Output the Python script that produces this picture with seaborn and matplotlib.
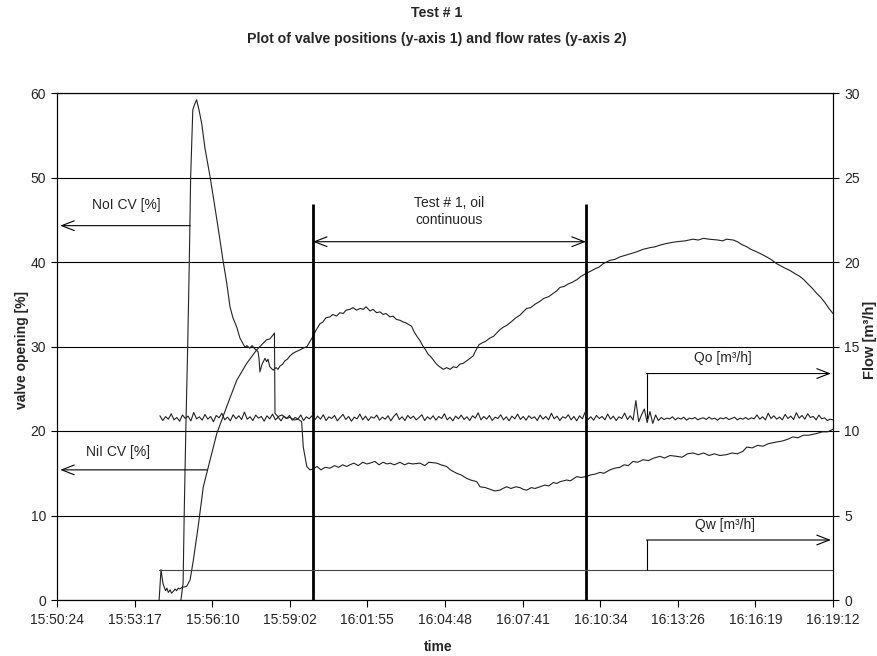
import matplotlib
matplotlib.use("Agg")
import matplotlib.pyplot as plt
import numpy as np
import seaborn as sns

# ---------------- data (time in minutes after 15:50:24) ----------------
tick_labels = ["15:50:24", "15:53:17", "15:56:10", "15:59:02", "16:01:55", "16:04:48",
               "16:07:41", "16:10:34", "16:13:26", "16:16:19", "16:19:12"]

noi_t = [4.60, 4.68, 4.72, 4.78, 4.85, 4.91, 4.96, 5.04, 5.10, 5.18, 5.27, 5.37, 5.49, 5.68,
         5.86, 6.01, 6.16, 6.30, 6.42, 6.53, 6.67, 6.79, 6.91, 6.98, 7.05, 7.15, 7.24, 7.35,
         7.46, 7.50, 7.53, 7.61, 7.72, 7.78, 7.83, 7.90, 8.02, 8.13, 8.20, 8.28, 8.37, 8.46,
         8.55, 8.65, 8.76, 8.88, 9.02, 9.14, 9.28, 9.39, 9.50, 9.61, 9.76, 9.87, 9.98, 10.13,
         10.24, 10.37, 10.50, 10.62, 10.73, 10.87, 10.99, 11.12, 11.25, 11.37, 11.47, 11.62,
         11.73, 11.86, 11.99, 12.10, 12.21, 12.36, 12.47, 12.60, 12.73, 12.85, 12.95, 13.05,
         13.16, 13.26, 13.36, 13.47, 13.59, 13.68, 13.77, 13.87, 13.97, 14.09, 14.20, 14.34,
         14.46, 14.59, 14.71, 14.83, 14.95, 15.07, 15.20, 15.33, 15.45, 15.52, 15.59, 15.66,
         15.76, 15.90, 16.07, 16.20, 16.32, 16.44, 16.57, 16.69, 16.85, 17.03, 17.18, 17.30,
         17.43, 17.58, 17.74, 17.90, 18.07, 18.25, 18.42, 18.55, 18.67, 18.82, 18.97, 19.12,
         19.29, 19.45, 19.66, 19.80, 19.97, 20.12, 20.27, 20.40, 20.52, 20.70, 20.89, 21.10,
         21.30, 21.51, 21.75, 22.01, 22.20, 22.38, 22.63, 22.80, 23.00, 23.31, 23.60, 23.80,
         23.99, 24.20, 24.53, 24.70, 24.85, 25.10, 25.25, 25.35, 25.46, 25.60, 25.75, 25.90,
         26.10, 26.34, 26.50, 26.71, 26.83, 27.00, 27.20, 27.40, 27.57, 27.72, 27.87, 28.03,
         28.19, 28.35, 28.50, 28.65, 28.80]
noi_v = [0.0, 2.0, 10.0, 20.0, 30.0, 40.0, 50.0, 58.0, 58.6, 59.2, 58.0, 56.4, 53.5, 50.1,
         46.5, 43.4, 40.2, 37.5, 34.7, 33.4, 32.3, 31.0, 30.3, 29.9, 30.1, 29.8, 30.1, 29.7,
         29.4, 28.5, 27.0, 27.9, 28.6, 28.2, 28.5, 27.6, 27.2, 27.5, 27.3, 27.7, 27.9, 28.3,
         28.5, 28.9, 29.2, 29.4, 29.6, 29.8, 30.0, 30.6, 31.2, 31.9, 32.7, 32.9, 33.4, 33.5,
         33.8, 33.6, 34.0, 33.9, 34.3, 34.4, 34.6, 34.3, 34.5, 34.4, 34.7, 34.2,
         34.4, 34.0, 34.1, 33.8, 33.9, 33.5, 33.6, 33.2, 33.1, 32.9, 32.8, 32.6,
         32.4, 31.7, 31.2, 30.7, 30.0, 29.6, 29.1, 28.8, 28.4, 27.9, 27.6, 27.3,
         27.5, 27.3, 27.6, 27.5, 27.9, 28.0, 28.3, 28.6, 28.9, 29.4, 29.8, 30.2,
         30.4, 30.6, 31.0, 31.2, 31.6, 32.0, 32.3, 32.5, 32.9, 33.4, 33.7, 34.1,
         34.5, 34.6, 35.0, 35.3, 35.7, 35.9, 36.3, 36.6, 37.0, 37.1, 37.4, 37.6,
         37.9, 38.3, 38.7, 38.9, 39.2, 39.4, 39.8, 40.0, 40.2, 40.3, 40.6, 40.8,
         41.0, 41.2, 41.5, 41.7, 41.8, 42.0, 42.2, 42.3, 42.4, 42.5, 42.7, 42.6,
         42.8, 42.7, 42.6, 42.5, 42.7, 42.6, 42.4, 42.2, 42.0, 41.8, 41.5, 41.3,
         41.0, 40.6, 40.3, 39.8, 39.6, 39.3, 39.0, 38.6, 38.3, 37.9, 37.4, 36.9,
         36.3, 35.8, 35.2, 34.5, 33.9]

nii_t = [3.79, 3.86, 3.93, 3.97, 4.03, 4.08, 4.13, 4.20, 4.25, 4.31, 4.38, 4.44, 4.50, 4.56,
         4.64, 4.81, 4.94, 5.06, 5.24, 5.43, 5.62, 5.93, 6.30, 6.67, 7.04, 7.41, 7.78, 7.90,
         8.03, 8.07, 8.09, 8.20, 8.35, 8.50, 8.65, 8.80, 8.95, 9.08, 9.14, 9.27, 9.39, 9.50,
         9.65, 9.80, 9.95, 10.13, 10.30, 10.45, 10.60, 10.75, 10.87, 11.02, 11.18, 11.35,
         11.50, 11.62, 11.80, 11.95, 12.10, 12.25, 12.36, 12.52, 12.73, 12.90, 13.05, 13.20,
         13.47, 13.65, 13.80, 14.09, 14.25, 14.46, 14.60, 14.83, 15.00, 15.20, 15.35, 15.58,
         15.70, 15.90, 16.07, 16.25, 16.44, 16.55, 16.69, 16.85, 17.03, 17.18, 17.30, 17.43,
         17.60, 17.74, 17.93, 18.10, 18.25, 18.42, 18.55, 18.67, 18.92, 19.05, 19.29, 19.45,
         19.63, 19.80, 19.97, 20.15, 20.30, 20.52, 20.70, 20.89, 21.05, 21.20, 21.38, 21.55,
         21.75, 21.95, 22.15, 22.38, 22.55, 22.75, 23.00, 23.20, 23.40, 23.60, 23.80, 24.00,
         24.20, 24.40, 24.60, 24.85, 25.05, 25.25, 25.46, 25.60, 25.80, 26.00, 26.20, 26.40,
         26.71, 26.90, 27.10, 27.31, 27.50, 27.70, 27.90, 28.19, 28.40, 28.60, 28.80]
nii_v = [0.0, 3.6, 2.0, 1.6, 1.1, 1.4, 0.9, 1.2, 0.8, 1.0, 1.3, 1.1, 1.4, 1.3,
         1.5, 1.6, 2.4, 4.7, 8.7, 13.4, 15.8, 19.7, 22.9, 26.0, 28.0, 29.6, 30.8, 30.9,
         31.4, 31.6, 22.1, 21.7, 21.9, 21.5, 21.6, 21.3, 21.4, 21.1, 18.1, 15.8, 15.4, 15.5,
         15.8, 15.4, 15.7, 15.6, 15.9, 15.7, 16.0, 15.8, 16.0, 16.2, 15.9, 16.3,
         16.1, 16.2, 16.4, 16.0, 16.3, 16.1, 16.2, 16.0, 16.3, 16.0, 16.2, 16.1,
         16.2, 15.9, 16.3, 16.2, 16.0, 15.8, 15.4, 15.0, 14.8, 14.4, 14.2, 14.0,
         13.4, 13.3, 13.1, 12.9, 13.0, 13.2, 13.4, 13.2, 13.4, 13.3, 13.1, 13.0,
         13.3, 13.2, 13.4, 13.6, 13.5, 13.9, 13.8, 14.0, 14.2, 14.1, 14.6, 14.5,
         14.6, 14.8, 14.9, 15.1, 15.0, 15.4, 15.6, 15.7, 16.0, 15.9, 16.4, 16.3,
         16.6, 16.5, 16.8, 17.0, 16.8, 17.1, 17.0, 16.9, 17.3, 17.4, 17.2, 17.4,
         17.1, 17.3, 17.1, 17.2, 17.4, 17.3, 17.6, 18.1, 18.0, 18.3, 18.2, 18.5,
         18.7, 18.8, 19.0, 19.3, 19.2, 19.5, 19.5, 19.7, 19.9, 19.9, 20.2]

qo_span = [3.82, 28.80]
qo_v = [10.90, 10.62, 10.85, 10.70, 11.02, 10.66, 10.80, 10.58, 10.95, 10.74, 10.88, 10.60,
        11.10, 10.72, 10.84, 10.64, 10.98, 10.70, 10.86, 10.55, 10.92, 10.78, 11.05, 10.66,
        10.82, 10.60, 10.96, 10.72, 10.90, 10.68, 11.12, 10.70, 10.84, 10.62, 10.94, 10.76,
        10.86, 10.58, 10.90, 10.72, 11.00, 10.66, 10.82, 10.60, 10.88, 10.74, 10.92, 10.64,
        10.80, 10.70, 10.95, 10.62, 10.84, 10.72, 10.90,
        10.66, 10.88, 10.70, 10.96, 10.62, 10.84, 10.74, 10.92, 10.60, 10.80, 10.98, 10.68,
        10.86, 10.58, 10.82, 10.72, 11.00, 10.66, 10.88, 10.62, 10.84, 10.76, 10.94, 10.64,
        10.82, 10.70, 10.90, 10.60, 10.86, 11.04, 10.68, 10.84, 10.62, 10.92, 10.74, 10.88,
        10.66, 10.80, 10.96, 10.62, 10.84, 10.70, 10.90, 10.64, 10.86, 10.74, 11.02, 10.66,
        10.82, 10.60, 10.88, 10.72, 10.94, 10.68, 10.84, 10.62, 10.90, 10.76, 11.08, 10.66,
        10.86, 10.70, 10.92, 10.62, 10.82, 10.74, 10.96, 10.66, 10.84, 10.60, 10.88, 10.72,
        11.00, 10.68, 10.86, 10.64, 10.90, 10.74, 10.84, 10.62, 10.94, 10.70, 10.86, 10.66,
        11.05, 10.72, 10.88, 10.62, 10.84, 10.76, 10.96, 10.66, 10.86, 10.60, 10.90, 10.72,
        11.12, 10.68, 10.84, 10.64, 10.92, 10.74, 10.86, 10.66, 11.00, 10.70, 10.88, 10.62,
        10.84, 10.74, 11.06, 10.68,
        10.90, 10.65, 11.80, 10.55, 10.95, 11.30, 10.50, 11.15, 10.45, 10.95, 10.62,
        10.80, 10.68, 10.76, 10.72, 10.84, 10.66, 10.78, 10.70, 10.82, 10.64, 10.76, 10.72,
        10.80, 10.66, 10.74, 10.78, 10.68, 10.82, 10.70, 10.76, 10.64, 10.78, 10.72, 10.80,
        10.68, 10.74, 10.82, 10.66, 10.76, 10.70, 10.80, 10.68, 10.78, 10.72, 10.95, 10.70,
        10.84, 10.66, 11.05, 10.74, 10.90, 10.70, 10.82, 10.66, 10.98, 10.74, 10.88, 10.68,
        11.08, 10.76, 10.92, 10.70, 11.02, 10.80, 10.86, 10.66, 10.94, 10.72, 10.78, 10.62,
        10.70, 10.66]

qw_t = [3.79, 28.80]
qw_v = [1.80, 1.80]

test_span = [9.50, 19.63]       # thick markers (minutes)
test_marker_top = 46.9          # valve-% units

# ---------------- figure ----------------
sns.set_style("ticks")
plt.rcParams["font.family"] = ["Liberation Sans", "DejaVu Sans"]

W, H = 877, 656
fig = plt.figure(figsize=(W / 100, H / 100), dpi=100)
ax = fig.add_axes([57 / W, 1 - 600 / H, (833 - 57) / W, (600 - 93) / H])
ax2 = ax.twinx()

line_col = "#222222"
lw = 0.8

sns.lineplot(x=noi_t, y=noi_v, ax=ax, color=line_col, lw=lw, estimator=None, sort=False, legend=False)
sns.lineplot(x=nii_t, y=nii_v, ax=ax, color=line_col, lw=lw, estimator=None, sort=False, legend=False)
qo_t = np.linspace(qo_span[0], qo_span[1], len(qo_v))
sns.lineplot(x=qo_t, y=qo_v, ax=ax2, color=line_col, lw=lw, estimator=None, sort=False, legend=False)
sns.lineplot(x=qw_t, y=qw_v, ax=ax2, color="#444444", lw=lw, estimator=None, sort=False, legend=False)

# thick test markers
ax.vlines(test_span, 0, test_marker_top, colors="black", lw=2.0, zorder=5)

# axes formatting
def to_min(s):
    h, m, sec = (int(p) for p in s.split(":"))
    return (h * 3600 + m * 60 + sec - (15 * 3600 + 50 * 60 + 24)) / 60.0

ticks_x = [to_min(s) for s in tick_labels]
ax.set_xlim(0, to_min(tick_labels[-1]))
ax.set_xticks(ticks_x)
ax.set_xticklabels(tick_labels)
ax.set_ylim(0, 60)
ax.set_yticks(range(0, 61, 10))
ax2.set_ylim(0, 30)
ax2.set_yticks(range(0, 31, 5))

ax.yaxis.grid(True, color="black", lw=0.8)
ax.set_axisbelow(True)
for a in (ax, ax2):
    for sp in a.spines.values():
        sp.set_color("black")
        sp.set_linewidth(0.8)
tick_fs = 10
ax.tick_params(axis="x", direction="out", length=5, width=0.8, color="black", labelsize=tick_fs, pad=4)
ax.tick_params(axis="y", direction="out", length=4, width=0.8, color="black", labelsize=tick_fs, pad=4)
ax2.tick_params(axis="y", direction="out", length=4, width=0.8, color="black", labelsize=tick_fs, pad=4)

ax.set_xlabel("")
ax.set_ylabel("")
ax2.set_ylabel("")
fig.text(0.5, 1 - 647 / H, "time", ha="center", va="center", fontsize=10, fontweight="bold")
fig.text(22 / W, 1 - 350 / H, "valve opening [%]", rotation=90, ha="center", va="center",
         fontsize=10, fontweight="bold")
fig.text(870 / W, 1 - 340 / H, "Flow [m³/h]", rotation=90, ha="center", va="center",
         fontsize=10.5, fontweight="bold")
fig.text(437 / W, 1 - 13 / H, "Test # 1", ha="center", va="center", fontsize=10.2, fontweight="bold")
fig.text(437 / W, 1 - 39 / H, "Plot of valve positions (y-axis 1) and flow rates (y-axis 2)",
         ha="center", va="center", fontsize=10.2, fontweight="bold")

# annotations
arrow_kw = dict(arrowstyle="->,head_length=0.9,head_width=0.35", lw=0.8, color="black",
                shrinkA=0, shrinkB=0)
dbl_kw = dict(arrowstyle="<->,head_length=0.9,head_width=0.35", lw=0.8, color="black",
              shrinkA=0, shrinkB=0)
ann_fs = 10

ax.annotate("", xy=(0.12, 44.3), xytext=(4.94, 44.3), arrowprops=arrow_kw, zorder=6)
ax.text(2.56, 46.7, "NoI CV [%]", ha="center", va="center", fontsize=ann_fs)
ax.annotate("", xy=(0.12, 15.4), xytext=(5.57, 15.4), arrowprops=arrow_kw, zorder=6)
ax.text(2.26, 17.5, "NiI CV [%]", ha="center", va="center", fontsize=ann_fs)

ax.annotate("", xy=(test_span[0], 42.4), xytext=(test_span[1], 42.4), arrowprops=dbl_kw, zorder=6)
ax.text(sum(test_span) / 2, 46.0, "Test # 1, oil\ncontinuous", ha="center", va="center",
        fontsize=ann_fs, linespacing=1.25)

ax2.plot([21.88, 21.88], [10.75, 13.4], color="black", lw=0.8)
ax2.annotate("", xy=(28.72, 13.4), xytext=(21.88, 13.4), arrowprops=arrow_kw)
ax2.text(24.72, 14.3, "Qo [m³/h]", ha="center", va="center", fontsize=ann_fs)
ax2.plot([21.88, 21.88], [1.8, 3.55], color="black", lw=0.8)
ax2.annotate("", xy=(28.72, 3.55), xytext=(21.88, 3.55), arrowprops=arrow_kw)
ax2.text(24.8, 4.45, "Qw [m³/h]", ha="center", va="center", fontsize=ann_fs)

fig.savefig("out.png", dpi=100)
